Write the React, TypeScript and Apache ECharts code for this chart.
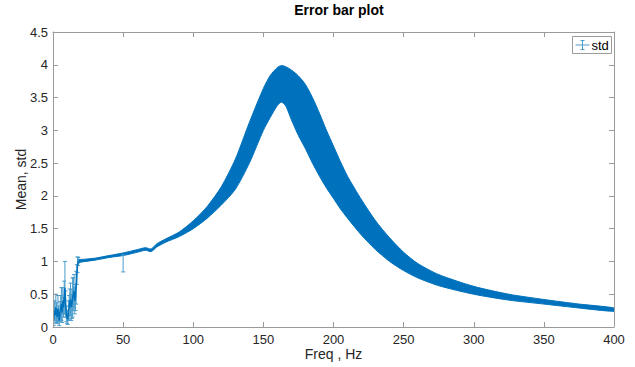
import React, { useEffect, useRef } from "react";
import * as echarts from "echarts";

// Low-frequency noisy region (freq, mean, std)
const lowFreq = [0.5, 1, 1.5, 2, 2.5, 3, 3.5, 4, 4.5, 5, 5.5, 6, 6.5, 7, 7.5, 8, 8.5, 9, 9.5, 10, 10.5, 11, 11.5, 12, 12.5, 13, 13.5, 14, 14.5, 15, 15.5, 16, 16.5, 17, 17.5, 18];
const lowMean = [0.12, 0.25, 0.18, 0.3, 0.22, 0.15, 0.28, 0.2, 0.1, 0.24, 0.3, 0.35, 0.22, 0.4, 0.3, 0.45, 0.6, 0.35, 0.2, 0.15, 0.12, 0.25, 0.3, 0.38, 0.42, 0.3, 0.35, 0.45, 0.5, 0.55, 0.4, 0.45, 0.6, 0.8, 0.95, 1.0];
const lowStd = [0.1, 0.15, 0.12, 0.2, 0.15, 0.1, 0.2, 0.12, 0.08, 0.15, 0.18, 0.25, 0.15, 0.2, 0.15, 0.25, 0.4, 0.2, 0.12, 0.1, 0.08, 0.15, 0.18, 0.2, 0.25, 0.2, 0.22, 0.3, 0.25, 0.25, 0.2, 0.2, 0.25, 0.15, 0.12, 0.06];

// Isolated error bar
const outlierFreq = [50];
const outlierMean = [0.97];
const outlierStd = [0.13];

// Dense error-bar band (mean - std, mean + std)
const bandFreq = [18, 20, 30, 40, 50, 60, 66, 70, 74, 80, 90, 100, 110, 120, 130, 140, 150, 155, 160, 163, 166, 170, 175, 180, 185, 190, 195, 200, 205, 210, 220, 230, 240, 250, 260, 275, 300, 325, 350, 375, 400];
const bandLower = [0.97, 0.99, 1.02, 1.06, 1.09, 1.14, 1.17, 1.15, 1.22, 1.29, 1.38, 1.5, 1.66, 1.86, 2.1, 2.5, 3.0, 3.2, 3.38, 3.43, 3.37, 3.16, 2.92, 2.72, 2.5, 2.3, 2.12, 1.96, 1.8, 1.66, 1.4, 1.18, 1.0, 0.86, 0.75, 0.63, 0.5, 0.41, 0.35, 0.29, 0.24];
const bandUpper = [1.03, 1.03, 1.05, 1.09, 1.13, 1.18, 1.21, 1.19, 1.27, 1.34, 1.45, 1.62, 1.84, 2.14, 2.56, 3.12, 3.64, 3.84, 3.96, 3.99, 3.97, 3.92, 3.83, 3.7, 3.5, 3.26, 3.0, 2.76, 2.52, 2.3, 1.94, 1.62, 1.36, 1.14, 0.97, 0.8, 0.62, 0.5, 0.42, 0.35, 0.29];

const FONT = "'Liberation Sans', Arial, Helvetica, sans-serif";
const BLUE = "#0072BD";
const BAR = "#4a9ccb";
const AXIS = "#9a9a9a";
const TEXT = "#262626";

export default function App() {
  const ref = useRef<HTMLDivElement>(null);
  useEffect(() => {
    if (!ref.current) return;
    const chart = echarts.init(ref.current, undefined, { renderer: "svg" });

    const errData = lowFreq.map((f, i) => [f, lowMean[i], lowStd[i]]).concat(
      outlierFreq.map((f, i) => [f, outlierMean[i], outlierStd[i]])
    );

    const axisCommon = {
      type: "value" as const,
      z: 10,
      axisLine: { show: true, onZero: false, lineStyle: { color: AXIS, width: 1 } },
      axisTick: { show: true, inside: true, length: 5, lineStyle: { color: AXIS } },
      splitLine: { show: false },
    };

    chart.setOption({
      animation: false,
      backgroundColor: "#fff",
      textStyle: { fontFamily: FONT },
      title: {
        text: "Error bar plot",
        left: 334,
        top: -2,
        textAlign: "center",
        textStyle: { fontSize: 14, fontWeight: "bold", color: "#000", fontFamily: FONT },
      },
      grid: { left: 53, right: 21, top: 32, bottom: 40, containLabel: false, outerBoundsMode: "none" },
      xAxis: [
        {
          ...axisCommon,
          min: 0,
          max: 400,
          interval: 50,
          position: "bottom",
          axisLabel: { color: TEXT, fontSize: 13, margin: 6, fontFamily: FONT },
          name: "Freq , Hz",
          nameLocation: "middle",
          nameGap: 20,
          nameMoveOverlap: false,
          nameTextStyle: { fontSize: 14, color: TEXT, fontFamily: FONT, verticalAlign: "top" },
        },
        {
          ...axisCommon,
          min: 0,
          max: 400,
          interval: 50,
          position: "top",
          axisLabel: { show: false },
        },
      ],
      yAxis: [
        {
          ...axisCommon,
          min: 0,
          max: 4.5,
          interval: 0.5,
          position: "left",
          axisLabel: { color: TEXT, fontSize: 13, margin: 5, fontFamily: FONT },
          name: "Mean, std",
          nameLocation: "middle",
          nameGap: 25,
          nameMoveOverlap: false,
          nameTextStyle: { fontSize: 14, color: TEXT, fontFamily: FONT },
        },
        {
          ...axisCommon,
          min: 0,
          max: 4.5,
          interval: 0.5,
          position: "right",
          axisLabel: { show: false },
        },
      ],
      series: [
        {
          type: "custom",
          name: "band",
          clip: true,
          data: [[bandFreq[0], bandLower[0]]],
          z: 2,
          silent: true,
          renderItem: (params: any, api: any) => {
            const pts: number[][] = [];
            for (let i = 0; i < bandFreq.length; i++) pts.push(api.coord([bandFreq[i], bandUpper[i]]));
            for (let i = bandFreq.length - 1; i >= 0; i--) pts.push(api.coord([bandFreq[i], bandLower[i]]));
            return {
              type: "polygon",
              shape: { points: pts, smooth: 0.25 },
              style: { fill: BLUE, stroke: BLUE, lineWidth: 1 },
            };
          },
        },
        {
          type: "custom",
          name: "std",
          clip: true,
          data: errData,
          z: 3,
          renderItem: (params: any, api: any) => {
            const x = api.value(0);
            const m = api.value(1);
            const s = api.value(2);
            const top = api.coord([x, m + s]);
            const bot = api.coord([x, Math.max(0, m - s)]);
            const c = 2;
            const st = { stroke: BAR, lineWidth: 1, fill: "none" };
            return {
              type: "group",
              children: [
                { type: "line", shape: { x1: top[0], y1: top[1], x2: bot[0], y2: bot[1] }, style: st },
                { type: "line", shape: { x1: top[0] - c, y1: top[1], x2: top[0] + c, y2: top[1] }, style: st },
                { type: "line", shape: { x1: bot[0] - c, y1: bot[1], x2: bot[0] + c, y2: bot[1] }, style: st },
              ],
            };
          },
        },
        {
          type: "line",
          name: "mean",
          data: lowFreq.map((f, i) => [f, lowMean[i]]),
          symbol: "none",
          lineStyle: { width: 1.5, color: BLUE },
          silent: true,
          z: 4,
        },
      ],
      graphic: [
        {
          type: "group",
          left: 572,
          top: 36,
          z: 100,
          children: [
            { type: "rect", shape: { x: 0, y: 0, width: 39, height: 17 }, style: { fill: "#fff", stroke: AXIS, lineWidth: 1 } },
            { type: "line", shape: { x1: 3, y1: 8.5, x2: 17, y2: 8.5 }, style: { stroke: BAR, lineWidth: 1 } },
            { type: "line", shape: { x1: 10, y1: 4, x2: 10, y2: 13 }, style: { stroke: BAR, lineWidth: 1 } },
            { type: "line", shape: { x1: 8, y1: 4, x2: 12, y2: 4 }, style: { stroke: BAR, lineWidth: 1 } },
            { type: "line", shape: { x1: 8, y1: 13, x2: 12, y2: 13 }, style: { stroke: BAR, lineWidth: 1 } },
            { type: "text", x: 19, y: 8.5, style: { text: "std", fontSize: 13, fill: "#000", fontFamily: FONT, verticalAlign: "middle", align: "left" } },
          ],
        },
      ],
    });
    return () => chart.dispose();
  }, []);
  return <div ref={ref} style={{ position: "absolute", left: 0, top: 0, width: 635, height: 367 }} />;
}
